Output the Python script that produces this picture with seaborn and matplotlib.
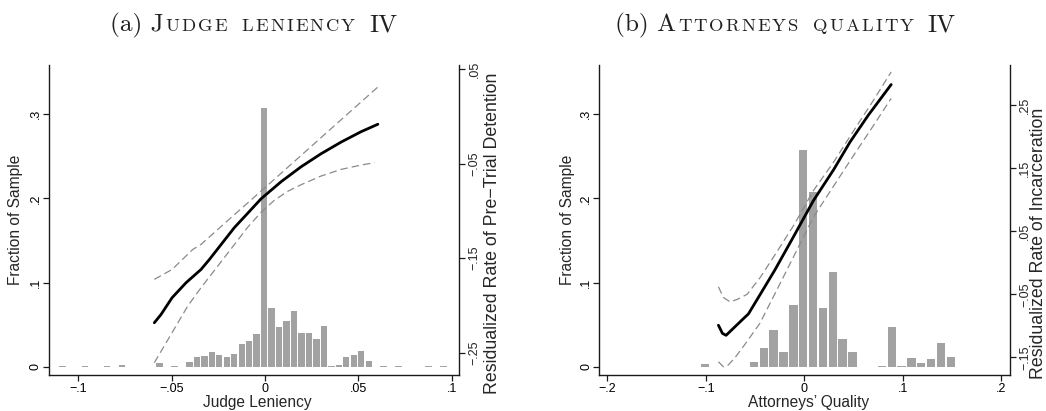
import numpy as np
import pandas as pd
import matplotlib
matplotlib.use("Agg")
import matplotlib.pyplot as plt
import seaborn as sns
from matplotlib.offsetbox import TextArea, HPacker, AnchoredOffsetbox, DrawingArea

# ---------------- data ----------------
# Panel (a): histogram of judge leniency (fraction of sample)
judge_bin_centers = [-0.1085, -0.0965, -0.0845, -0.0765, -0.0565, -0.0485, -0.0405, -0.0365,
                     -0.0325, -0.0285, -0.0245, -0.0205, -0.0165, -0.0125, -0.0085, -0.0045,
                     -0.0005, 0.0035, 0.0075, 0.0115, 0.0155, 0.0195, 0.0235, 0.0275, 0.0315,
                     0.0355, 0.0395, 0.0435, 0.0475, 0.0515, 0.0555, 0.0635, 0.0715, 0.0875, 0.0955]
judge_bin_fraction = [0.0008, 0.0008, 0.0008, 0.002, 0.004, 0.001, 0.005, 0.0115,
                      0.0125, 0.018, 0.0135, 0.0115, 0.015, 0.0265, 0.031, 0.039,
                      0.307, 0.070, 0.0476, 0.0543, 0.066, 0.040, 0.0396, 0.0325, 0.048,
                      0.001, 0.002, 0.011, 0.014, 0.0186, 0.0067, 0.001, 0.001, 0.0006, 0.001]
# Panel (a): local fit of residualized pre-trial detention and its CI
judge_fit_x = [-0.0593, -0.0557, -0.0498, -0.0423, -0.0343, -0.0298, -0.0165, -0.0093, -0.0021,
               0.0086, 0.0193, 0.0300, 0.0407, 0.0514, 0.0604]
judge_fit_y = [-0.2183, -0.2095, -0.1918, -0.1759, -0.1619, -0.1513, -0.1177, -0.1024, -0.0870,
               -0.0690, -0.0532, -0.0394, -0.0271, -0.0161, -0.0082]
judge_up_x = [-0.0593, -0.0498, -0.0387, -0.0343, -0.0165, -0.0021, 0.0193, 0.0371, 0.0604]
judge_up_y = [-0.1724, -0.1619, -0.1407, -0.1354, -0.1040, -0.0789, -0.0412, -0.0098, 0.0312]
judge_lo_x = [-0.0593, -0.0498, -0.0414, -0.0343, -0.0165, -0.0093, -0.0021, 0.0050, 0.0122,
              0.0193, 0.0300, 0.0407, 0.0514, 0.0586]
judge_lo_y = [-0.2606, -0.2288, -0.2006, -0.1812, -0.1357, -0.1172, -0.1013, -0.0886, -0.0791,
              -0.0722, -0.0630, -0.0560, -0.0514, -0.0489]

# Panel (b): histogram of attorneys' quality
att_bin_centers = [-0.101, -0.051, -0.041, -0.031, -0.021, -0.011, -0.001, 0.009, 0.019, 0.029,
                   0.039, 0.049, 0.079, 0.089, 0.099, 0.109, 0.119, 0.129, 0.139, 0.149]
att_bin_fraction = [0.003, 0.0053, 0.0218, 0.044, 0.0178, 0.0733, 0.2576, 0.208, 0.0694, 0.112,
                    0.033, 0.0175, 0.0008, 0.0476, 0.001, 0.0099, 0.004, 0.0095, 0.0277, 0.011]
# Panel (b): local fit of residualized incarceration and its CI
att_fit_x = [-0.0871, -0.0830, -0.0793, -0.0720, -0.0640, -0.0566, -0.0450, -0.0300, -0.0110,
             0.0095, 0.0300, 0.0467, 0.0650, 0.0884]
att_fit_y = [-0.099, -0.112, -0.115, -0.104, -0.092, -0.081, -0.051, -0.012, 0.041,
             0.099, 0.148, 0.192, 0.234, 0.283]
att_up_x = [-0.0871, -0.0820, -0.0752, -0.0680, -0.0580, -0.0450, -0.0312, -0.0100, 0.0095,
            0.0300, 0.0500, 0.0700, 0.0884]
att_up_y = [-0.038, -0.055, -0.062, -0.058, -0.050, -0.024, 0.009, 0.061, 0.115,
            0.160, 0.209, 0.257, 0.303]
att_lo_x = [-0.0871, -0.0820, -0.0770, -0.0700, -0.0600, -0.0450, -0.0300, -0.0110, 0.0095,
            0.0300, 0.0500, 0.0700, 0.0884]
att_lo_y = [-0.157, -0.165, -0.162, -0.150, -0.129, -0.096, -0.050, 0.009, 0.073,
            0.122, 0.170, 0.217, 0.261]

# tick values / labels
frac_ticks = [0, 0.1, 0.2, 0.3]
frac_labels = ["0", ".1", ".2", ".3"]
judge_xticks = [-0.1, -0.05, 0, 0.05, 0.1]
judge_xlabels = ["\u2212.1", "\u2212.05", "0", ".05", ".1"]
judge_rticks = [-0.25, -0.15, -0.05, 0.05]
judge_rlabels = ["\u2212.25", "\u2212.15", "\u2212.05", ".05"]
att_xticks = [-0.2, -0.1, 0, 0.1, 0.2]
att_xlabels = ["\u2212.2", "\u2212.1", "0", ".1", ".2"]
att_rticks = [-0.15, -0.05, 0.05, 0.15, 0.25]
att_rlabels = ["\u2212.15", "\u2212.05", ".05", ".15", ".25"]

# ---------------- style ----------------
sns.set_style("ticks")
plt.rcParams["font.family"] = ["Liberation Sans", "DejaVu Sans"]
plt.rcParams["lines.dashed_pattern"] = [6.0, 3.2]

W, H = 1046, 411
fig = plt.figure(figsize=(W / 100, H / 100), dpi=100)
fig.patch.set_facecolor("white")

BAR = "#a2a2a2"
DASH = "#8a8a8a"
INK = "#1a1a1a"


def px_rect(l, r, t, b):
    return [l / W, 1 - b / H, (r - l) / W, (b - t) / H]


def draw_panel(rect, centers, fracs, fit_x, fit_y, up_x, up_y, lo_x, lo_y,
               xlim, xticks, xlabels, ylim2, rticks, rlabels,
               xlabel, ylabel2, xlabel_x, ylabel_x, ylabel2_x, ylabel2_y):
    ax = fig.add_axes(rect)
    sns.barplot(x=centers, y=fracs, native_scale=True, orient="x", width=0.85,
                color=BAR, saturation=1, errorbar=None, linewidth=0, ax=ax)
    ax.set_xlim(*xlim)
    ax.set_ylim(-0.0099, 0.3587)
    ax.set_xticks(xticks)
    ax.set_xticklabels(xlabels)
    ax.set_yticks(frac_ticks)
    ax.set_yticklabels(frac_labels, rotation=90, va="center")
    ax.tick_params(axis="both", length=4.2, width=0.9, color=INK, labelsize=9,
                   labelcolor="black")
    ax.tick_params(axis="x", pad=1.5)
    ax.tick_params(axis="y", pad=1.0)
    for s in ["top", "right"]:
        ax.spines[s].set_visible(False)
    for s in ["left", "bottom"]:
        ax.spines[s].set_color(INK)
        ax.spines[s].set_linewidth(1.0)
    ax.set_xlabel(xlabel, fontsize=11.2, ha="left")
    ax.xaxis.set_label_coords(xlabel_x, -0.064)
    ax.set_ylabel("Fraction of Sample", fontsize=11.2)
    ax.yaxis.set_label_coords(ylabel_x, 0.5)

    ax2 = ax.twinx()
    sns.lineplot(x=up_x, y=up_y, ax=ax2, color=DASH, linewidth=0.9, linestyle="--")
    sns.lineplot(x=lo_x, y=lo_y, ax=ax2, color=DASH, linewidth=0.9, linestyle="--")
    sns.lineplot(x=fit_x, y=fit_y, ax=ax2, color="black", linewidth=2.0)
    ax2.set_ylim(*ylim2)
    ax2.set_xlim(*xlim)
    ax2.set_yticks(rticks)
    ax2.set_yticklabels(rlabels, rotation=90, va="center")
    ax2.tick_params(axis="y", length=4.2, width=0.9, color=INK, labelsize=9, pad=2.5)
    for s in ["top", "left", "bottom"]:
        ax2.spines[s].set_visible(False)
    ax2.spines["right"].set_color(INK)
    ax2.spines["right"].set_linewidth(1.0)
    ax2.set_ylabel(ylabel2, fontsize=12.8)
    ax2.yaxis.set_label_coords(ylabel2_x, ylabel2_y)
    return ax, ax2


draw_panel(px_rect(49, 459.3, 65, 375), judge_bin_centers, judge_bin_fraction,
           judge_fit_x, judge_fit_y, judge_up_x, judge_up_y, judge_lo_x, judge_lo_y,
           (-0.1157, 0.104), judge_xticks, judge_xlabels, (-0.2736, 0.0545),
           judge_rticks, judge_rlabels, "Judge Leniency",
           "Residualized Rate of Pre\u2212Trial Detention",
           0.376, -0.0634, 1.059, 0.458)

draw_panel(px_rect(599.3, 1010, 65, 375), att_bin_centers, att_bin_fraction,
           att_fit_x, att_fit_y, att_up_x, att_up_y, att_lo_x, att_lo_y,
           (-0.2081, 0.2091), att_xticks, att_xlabels, (-0.178, 0.314),
           att_rticks, att_rlabels, "Attorneys\u2019 Quality",
           "Residualized Rate of Incarceration",
           0.362, -0.0592, 1.049, 0.425)


# ---------------- small-caps titles ----------------
BIG, SMALL = 18.2, 13.4
LETTER_SEP, WORD_GAP = 1.5, 8.0
TITLE_INK = "#202020"


def smallcaps_title(lead, small_words, tail, x, y):
    tp_big = dict(family="cmr10", size=BIG, color=TITLE_INK)
    tp_small = dict(family="cmr10", size=SMALL, color=TITLE_INK)
    kids = [TextArea(lead, textprops=tp_big)]
    for i, word in enumerate(small_words):
        if i > 0:
            kids.append(DrawingArea(WORD_GAP, 1))
        kids.append(HPacker(children=[TextArea(c, textprops=tp_small) for c in word],
                            align="baseline", pad=0, sep=LETTER_SEP))
    kids.append(DrawingArea(WORD_GAP, 1))
    kids.append(TextArea(tail, textprops=tp_big))
    box = HPacker(children=kids, align="baseline", pad=0, sep=1.2)
    anc = AnchoredOffsetbox(loc="center", child=box, pad=0, borderpad=0, frameon=False,
                            bbox_to_anchor=(x, y), bbox_transform=fig.transFigure)
    fig.add_artist(anc)


smallcaps_title("(a) J", ["UDGE", "LENIENCY"], "IV", 254 / W, 1 - 25 / H)
smallcaps_title("(b) A", ["TTORNEYS", "QUALITY"], "IV", 785.5 / W, 1 - 25 / H)

fig.savefig("out.png", dpi=100, facecolor="white")
